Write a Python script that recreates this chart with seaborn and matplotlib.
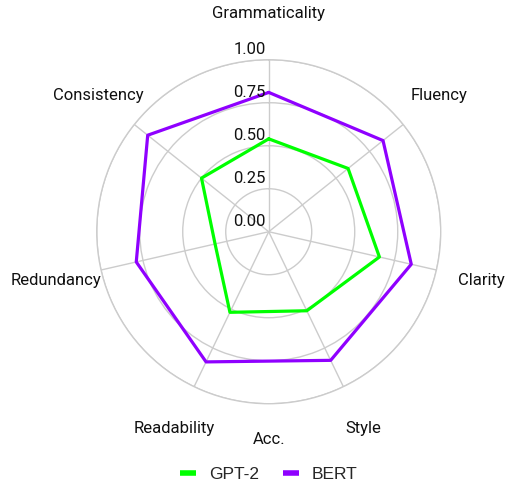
import numpy as np
import pandas as pd
import matplotlib
matplotlib.use("Agg")
import matplotlib.pyplot as plt
import matplotlib.transforms as mtransforms
from matplotlib.lines import Line2D
import seaborn as sns

# data
categories = ["Grammaticality", "Fluency", "Clarity", "Style",
              "Readability", "Redundancy", "Consistency"]
gpt2_scores = [0.54, 0.59, 0.66, 0.51, 0.52, 0.32, 0.50]
bert_scores = [0.81, 0.85, 0.85, 0.83, 0.84, 0.79, 0.90]
models = ["GPT-2", "BERT"]
colors = {"GPT-2": "#00FF00", "BERT": "#8F00FF"}
r_ticks = [0.0, 0.25, 0.5, 0.75, 1.0]
axis_title = "Acc."

sns.set_style("white")
plt.rcParams["font.family"] = ["Roboto", "DejaVu Sans"]

n = len(categories)
angles = np.linspace(0, 2 * np.pi, n, endpoint=False)

rows = []
for model, scores in zip(models, [gpt2_scores, bert_scores]):
    closed_ang = list(angles) + [angles[0]]
    closed_val = list(scores) + [scores[0]]
    for i, (a, v) in enumerate(zip(closed_ang, closed_val)):
        rows.append({"model": model, "angle": a, "score": v, "order": i})
df = pd.DataFrame(rows)

fig = plt.figure(figsize=(5.08, 4.86), dpi=100)
ax = fig.add_axes([0.1904, 0.1693, 0.6772, 0.7078], projection="polar")
ax.set_theta_zero_location("N")
ax.set_theta_direction(-1)

sns.lineplot(data=df, x="angle", y="score", hue="model", palette=colors,
             sort=False, estimator=None, linewidth=2.3, ax=ax, legend=False)

ax.set_ylim(0, 1)
ax.set_yticks(r_ticks[1:])
ax.set_yticklabels([])
ax.set_xticks(angles)
ax.set_xticklabels([])
ax.grid(True, color="#cccccc", linewidth=1.0)
ax.spines["polar"].set_color("#cccccc")
ax.spines["polar"].set_linewidth(1.0)
ax.set_xlabel("")
ax.set_ylabel("")

# radial tick labels along the top spoke
off = mtransforms.offset_copy(ax.transData, fig=fig, x=-3, y=3, units="dots")
for v in r_ticks:
    ax.text(0, v, f"{v:.2f}", transform=off, ha="right", va="bottom",
            fontsize=12, color="#111111")

# category labels
for a, lab in zip(angles, categories):
    ax.text(a, 1.27, lab, ha="center", va="center", fontsize=12,
            color="#111111")

ax.text(np.pi, 1.21, axis_title, ha="center", va="center", fontsize=12,
        color="#111111")

handles = [Line2D([], [], color=colors[m], linewidth=4, solid_capstyle="butt")
           for m in models]
fig.legend(handles, models, loc="center", bbox_to_anchor=(0.529, 0.024),
           ncol=2, frameon=False, handlelength=0.95, handletextpad=0.75,
           columnspacing=1.35, prop={"family": "Liberation Sans", "size": 12.5})

fig.savefig("out.png", dpi=100)
